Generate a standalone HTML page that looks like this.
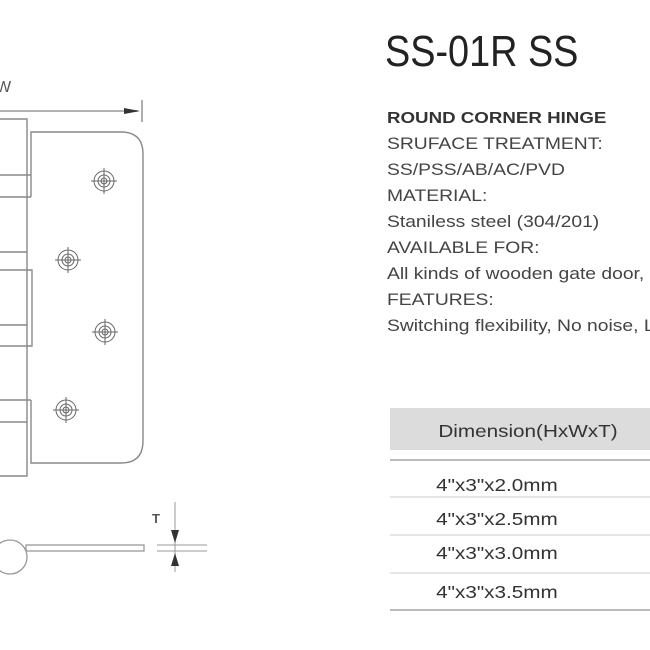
<!DOCTYPE html>
<html><head><meta charset="utf-8"><style>
html,body{margin:0;padding:0;background:#fff;width:650px;height:650px;overflow:hidden}
</style></head><body>
<svg width="650" height="650" viewBox="0 0 650 650" xmlns="http://www.w3.org/2000/svg" font-family="Liberation Sans, sans-serif">
<defs>
<g id="sc" stroke="#666" fill="none" stroke-width="1">
<circle r="10"/><circle r="6"/><circle r="3"/>
<line x1="-13" y1="0" x2="13" y2="0"/><line x1="0" y1="-13" x2="0" y2="13"/>
</g>
</defs>
<text x="-4" y="92" font-size="16" fill="#555">W</text>
<line x1="0" y1="111" x2="138" y2="111" stroke="#999" stroke-width="1.5"/>
<polygon points="124,108 140,111 124,114" fill="#333"/>
<line x1="142" y1="100" x2="142" y2="122" stroke="#777" stroke-width="1.2"/>
<g stroke="#888" fill="none" stroke-width="1.4">
<path d="M0,119 H27 V476 H0"/>
<path d="M0,175 H31 M0,197 H31"/>
<path d="M0,252 H27 M0,270 H32 V346 H0 M0,325 H27"/>
<path d="M0,400 H31 M0,422 H27"/>
<path d="M31,197 V132 H121 Q143,132 143,154 V441 Q143,463 121,463 H31 V400"/>
</g>
<use href="#sc" x="104" y="181"/>
<use href="#sc" x="68" y="260"/>
<use href="#sc" x="105" y="332"/>
<use href="#sc" x="66" y="410"/>
<circle cx="10" cy="557" r="17" fill="none" stroke="#999" stroke-width="1.3"/>
<rect x="26" y="545" width="118" height="6" fill="none" stroke="#999" stroke-width="1.3"/>
<line x1="175" y1="502" x2="175" y2="572" stroke="#999"/>
<line x1="157" y1="545" x2="207" y2="545" stroke="#999"/>
<line x1="157" y1="551" x2="207" y2="551" stroke="#999"/>
<polygon points="171,530 179,530 175,543" fill="#333"/>
<polygon points="171,566 179,566 175,553" fill="#333"/>
<text x="152" y="523" font-size="13" font-weight="bold" fill="#555">T</text>
<text x="385" y="66" font-size="44" fill="#222" transform="translate(385 0) scale(0.86 1) translate(-385 0)">SS-01R SS</text>
<g font-size="16.5" fill="#444" transform="translate(387 0) scale(1.17 1) translate(-387 0)">
<text x="387" y="123" font-weight="bold" fill="#333" font-size="16">ROUND CORNER HINGE</text>
<text x="387" y="149">SRUFACE  TREATMENT:</text>
<text x="387" y="175">SS/PSS/AB/AC/PVD</text>
<text x="387" y="201">MATERIAL:</text>
<text x="387" y="227">Staniless  steel (304/201)</text>
<text x="387" y="253">AVAILABLE  FOR:</text>
<text x="387" y="279">All kinds of wooden gate door,</text>
<text x="387" y="305">FEATURES:</text>
<text x="387" y="331">Switching flexibility, No noise, L</text>
</g>
<rect x="390" y="408" width="260" height="42" fill="#dcdcdc"/>
<line x1="390" y1="460" x2="650" y2="460" stroke="#bbb" stroke-width="2"/>
<g stroke="#ccc"><line x1="390" y1="497" x2="650" y2="497"/><line x1="390" y1="535" x2="650" y2="535"/><line x1="390" y1="573" x2="650" y2="573"/></g>
<line x1="390" y1="610" x2="650" y2="610" stroke="#bbb" stroke-width="2"/>
<g font-size="18" fill="#333" text-anchor="middle" transform="translate(528 0) scale(1.15 1) translate(-528 0)">
<text x="528" y="437">Dimension(HxWxT)</text>
<text x="501" y="491">4"x3"x2.0mm</text>
<text x="501" y="525">4"x3"x2.5mm</text>
<text x="501" y="559">4"x3"x3.0mm</text>
<text x="501" y="598">4"x3"x3.5mm</text>
</g>
</svg>
</body></html>
